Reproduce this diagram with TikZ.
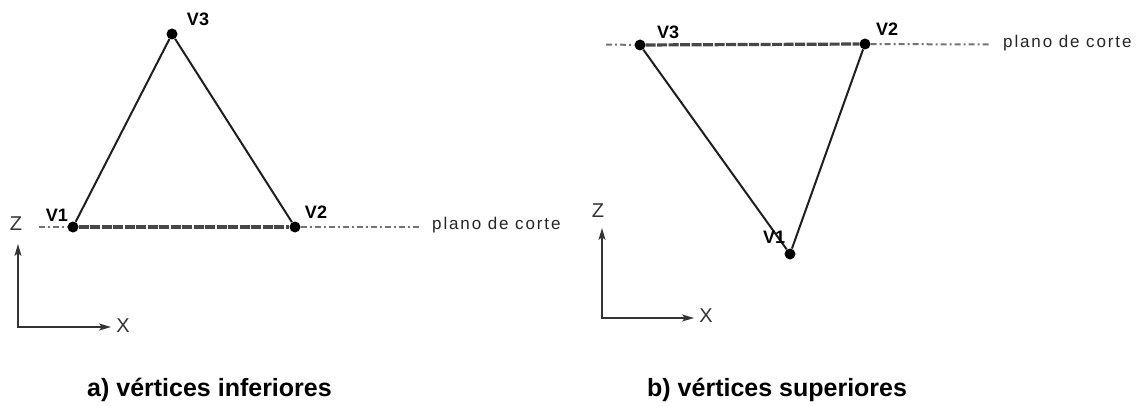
\documentclass[tikz,border=0pt]{standalone}
\usepackage{fontspec}
\setmainfont{Liberation Sans}
\usetikzlibrary{arrows.meta}
\begin{document}
\begin{tikzpicture}[x=1pt,y=-1pt,
  vdot/.style={circle,fill=black,inner sep=0pt,minimum size=11pt},
  vlabel/.style={font=\fontsize{18}{20}\selectfont\bfseries,inner sep=0pt},
  edge/.style={line width=2pt,draw=black!88},
  cutline/.style={line width=2pt,draw=black!55,dash pattern=on 6pt off 3pt on 2pt off 3pt},
  cutthick/.style={line width=3.2pt,draw=black!72,dash pattern=on 10pt off 1.5pt},
  axis/.style={line width=1.8pt,draw=black!80,{Stealth[length=12pt,width=7pt,inset=3pt]}-{Stealth[length=12pt,width=7pt,inset=3pt]}},
  axlabel/.style={font=\fontsize{20}{22}\selectfont,inner sep=0pt,text=black!80},
  cutlabel/.style={font=\fontsize{17}{20}\selectfont\addfontfeatures{LetterSpace=11},inner sep=0pt,anchor=base west,text=black!85},
  caption/.style={font=\fontsize{25}{28}\selectfont\bfseries,inner sep=0pt,anchor=base west}]
\useasboundingbox (0,0) rectangle (1145,406);
% ---------- left panel ----------
\node[vdot] (L1) at (73,227) {};
\node[vdot] (L2) at (295,227) {};
\node[vdot] (L3) at (172,34) {};
\coordinate (La) at (39,227);
\coordinate (Lb) at (421,227);
\draw[cutline] (La) -- (L1);
\draw[cutline] (L2) -- (Lb);
\draw[cutthick] (L1) -- (L2);
\draw[edge] (L1) -- (L3);
\draw[edge] (L3) -- (L2);
\node[vlabel] (tL1) at (57,215) {V1};
\node[vlabel] (tL2) at (316,212) {V2};
\node[vlabel] (tL3) at (198,19) {V3};
\node[cutlabel] (cL) at (432,229) {plano de corte};
\coordinate (Lz) at (18,244);
\coordinate (Lo) at (18,327);
\coordinate (Lx) at (111,327);
\draw[axis] (Lz) -- (Lo) -- (Lx);
\node[axlabel] (zL) at (16,224) {Z};
\node[axlabel] (xL) at (123,326) {X};
\node[caption] (capA) at (87,396) {a) vértices inferiores};
% ---------- right panel ----------
\node[vdot] (R3) at (640,45) {};
\node[vdot] (R2) at (865,44) {};
\node[vdot] (R1) at (790,254) {};
\coordinate (Ra) at (606,44.5);
\coordinate (Rb) at (990,44.5);
\draw[cutline] (Ra) -- (R3);
\draw[cutline] (R2) -- (Rb);
\draw[cutthick] (R3) -- (R2);
\draw[edge] (R3) -- (R1);
\draw[edge] (R1) -- (R2);
\node[vlabel] (tR3) at (668,32) {V3};
\node[vlabel] (tR2) at (887,29) {V2};
\node[vlabel] (tR1) at (774,237) {V1};
\node[cutlabel] (cR) at (1003,48) {plano de corte};
\coordinate (Rz) at (602,228);
\coordinate (Ro) at (602,318);
\coordinate (Rx) at (694,318);
\draw[axis] (Rz) -- (Ro) -- (Rx);
\node[axlabel] (zR) at (598,211) {Z};
\node[axlabel] (xR) at (706,316) {X};
\node[caption] (capB) at (647,396) {b) vértices superiores};
\end{tikzpicture}
\end{document}
